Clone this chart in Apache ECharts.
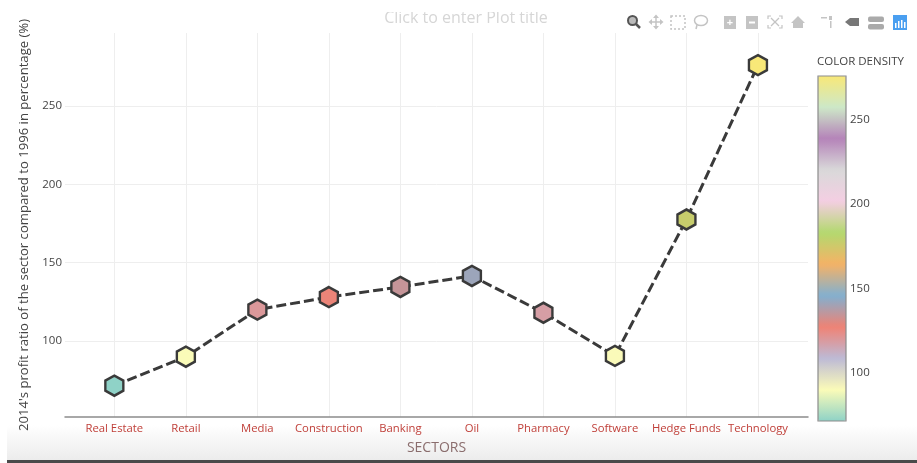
<!DOCTYPE html>
<html><head><meta charset="utf-8">
<style>html,body{margin:0;padding:0;background:#fff;overflow:hidden}#c{width:917px;height:463px}</style>
<script src="https://cdn.jsdelivr.net/npm/echarts@6/dist/echarts.min.js"></script>
</head><body><div id="c"></div>
<script>
const categories = ['Real Estate','Retail','Media','Construction','Banking','Oil','Pharmacy','Software','Hedge Funds','Technology'];
const profitRatio = [71.5,90,120,128,134.5,141.5,118,90.5,177.5,276];
const yTicks = [100,150,200,250];
const colorbarTicks = [100,150,200,250];
const colorScale = ['#8fd2c7','#fbfbb8','#bdbad6','#ef8274','#82b0d0','#f5b266','#b3d96e','#f4cee2','#d9d9d9','#b583b9','#cde8c8','#f8e878'];
const FONT = '"Open Sans", sans-serif';
const HEX = 'path://M50 0L93 25L93 75L50 100L7 75L7 25Z';
const pts = profitRatio.map((v,i)=>[i,v]);
const ic = '#c4c4c4';
const chart = echarts.init(document.getElementById('c'),null,{renderer:'canvas'});
const icon = (shape)=>Object.assign({silent:true},shape);
chart.setOption({
  animation:false,
  backgroundColor:'transparent',
  textStyle:{fontFamily:FONT},
  grid:[
    {left:65,top:33,width:743,height:384,containLabel:false},
    {left:818,top:76,width:28,height:345,show:false}
  ],
  xAxis:[
    {gridIndex:0,type:'value',min:-0.69,max:9.7,name:'SECTORS',nameLocation:'middle',nameGap:24,
     nameMoveOverlap:false,
     nameTextStyle:{color:'#8a6d6d',fontSize:14,fontFamily:FONT},
     axisLine:{onZero:false,lineStyle:{color:'#8c8c8c',width:1.5}},
     axisTick:{show:false,customValues:categories.map((c,i)=>i)},
     axisLabel:{color:'#c0403a',fontSize:11.3,fontFamily:FONT,margin:6,hideOverlap:false,
       customValues:categories.map((c,i)=>i),formatter:v=>categories[v]},
     splitLine:{show:true,lineStyle:{color:'#eeeeee',width:1}}},
    {gridIndex:1,type:'value',show:false,min:0,max:1}
  ],
  yAxis:[
    {gridIndex:0,type:'value',min:51.5,max:296.5,name:"2014's profit ratio of the sector compared to 1996 in percentage (%)",
     nameLocation:'middle',nameGap:34.5,nameMoveOverlap:false,nameTextStyle:{color:'#444',fontSize:13.1,fontFamily:FONT},
     axisLine:{show:false},
     axisTick:{show:false,customValues:yTicks},
     axisLabel:{color:'#444',fontSize:11.5,fontFamily:FONT,margin:3,customValues:yTicks},
     splitLine:{show:true,lineStyle:{color:'#eeeeee',width:1}}},
    {gridIndex:1,type:'value',position:'right',min:71.5,max:276,
     axisLine:{show:false},
     axisTick:{show:false,customValues:colorbarTicks},
     axisLabel:{color:'#444',fontSize:11.5,fontFamily:FONT,margin:4,customValues:colorbarTicks},
     splitLine:{show:false}}
  ],
  visualMap:[{
    type:'continuous',min:71.5,max:276,seriesIndex:1,dimension:1,calculable:false,hoverLink:false,
    left:818,top:76,itemWidth:28,itemHeight:345,padding:0,text:['',''],showLabel:false,
    inRange:{color:colorScale}
  }],
  series:[
    {type:'line',xAxisIndex:0,yAxisIndex:0,data:pts,showSymbol:false,symbol:'none',
     lineStyle:{color:'#3a3a3a',width:3,type:[10,4]},z:3},
    {type:'scatter',xAxisIndex:0,yAxisIndex:0,data:pts,symbol:HEX,symbolSize:[18,20],
     itemStyle:{borderColor:'#3a3a3a',borderWidth:2.5,opacity:1},z:4}
  ],
  graphic:[
    {type:'rect',z:-10,silent:true,shape:{x:7,y:425,width:910,height:35},
     style:{fill:new echarts.graphic.LinearGradient(0,0,0,1,[{offset:0,color:'#ffffff'},{offset:1,color:'#ececec'}])}},
    {type:'rect',z:-9,silent:true,shape:{x:7,y:460,width:910,height:3},style:{fill:'#4a4a4a'}},
    {type:'text',silent:true,x:466,y:18,z:1,style:{text:'Click to enter Plot title',font:'16px '+FONT,fill:'#d6d6d6',align:'center',verticalAlign:'middle'}},
    {type:'rect',silent:true,z:2,shape:{x:370,y:0,width:200,height:12},style:{fill:'#fff'}},
    {type:'text',silent:true,x:860.5,y:62,style:{text:'COLOR DENSITY',font:'11.5px '+FONT,fill:'#444',align:'center',verticalAlign:'middle'}},
    {type:'rect',silent:true,z:100,shape:{x:818,y:76,width:28,height:345},style:{fill:'none',stroke:'#8c8c8c',lineWidth:1.2}},
    // modebar
    icon({type:'circle',shape:{cx:632.5,cy:20.5,r:4.5},style:{fill:'#bbb',stroke:'#555',lineWidth:2}}),
    icon({type:'line',shape:{x1:636,y1:24,x2:640,y2:28},style:{stroke:'#555',lineWidth:2.5}}),
    icon({type:'line',shape:{x1:650,y1:22,x2:662,y2:22},style:{stroke:ic,lineWidth:1.5}}),
    icon({type:'line',shape:{x1:656,y1:16,x2:656,y2:28},style:{stroke:ic,lineWidth:1.5}}),
    icon({type:'polygon',shape:{points:[[656,14.5],[653,18],[659,18]]},style:{fill:ic}}),
    icon({type:'polygon',shape:{points:[[656,29.5],[653,26],[659,26]]},style:{fill:ic}}),
    icon({type:'polygon',shape:{points:[[648.5,22],[652,19],[652,25]]},style:{fill:ic}}),
    icon({type:'polygon',shape:{points:[[663.5,22],[660,19],[660,25]]},style:{fill:ic}}),
    icon({type:'rect',shape:{x:671,y:16,width:14,height:13},style:{fill:'none',stroke:ic,lineWidth:1.5,lineDash:[2,2]}}),
    icon({type:'ellipse',shape:{cx:701,cy:20.5,rx:6.5,ry:5},style:{fill:'none',stroke:ic,lineWidth:1.5}}),
    icon({type:'line',shape:{x1:697,y1:25,x2:696,y2:29},style:{stroke:ic,lineWidth:1.5}}),
    icon({type:'rect',shape:{x:724,y:16,width:12,height:13},style:{fill:ic}}),
    icon({type:'text',x:730,y:22.5,style:{text:'+',font:'bold 11px '+FONT,fill:'#fff',align:'center',verticalAlign:'middle'}}),
    icon({type:'rect',shape:{x:746,y:16,width:12,height:13},style:{fill:ic}}),
    icon({type:'rect',shape:{x:749,y:21.5,width:6,height:2},style:{fill:'#fff'}}),
    icon({type:'line',shape:{x1:771,y1:18,x2:779,y2:26},style:{stroke:ic,lineWidth:1.3}}),
    icon({type:'line',shape:{x1:779,y1:18,x2:771,y2:26},style:{stroke:ic,lineWidth:1.3}}),
    icon({type:'polyline',shape:{points:[[768,19],[768,16],[771,16]]},style:{stroke:ic,fill:'none',lineWidth:1.2}}),
    icon({type:'polyline',shape:{points:[[779,16],[782,16],[782,19]]},style:{stroke:ic,fill:'none',lineWidth:1.2}}),
    icon({type:'polyline',shape:{points:[[768,25],[768,28],[771,28]]},style:{stroke:ic,fill:'none',lineWidth:1.2}}),
    icon({type:'polyline',shape:{points:[[779,28],[782,28],[782,25]]},style:{stroke:ic,fill:'none',lineWidth:1.2}}),
    icon({type:'polygon',shape:{points:[[791,23],[798,16],[805,23],[803,23],[803,28],[793,28],[793,23]]},style:{fill:ic}}),
    icon({type:'rect',shape:{x:829,y:16,width:3,height:4},style:{fill:ic}}),
    icon({type:'rect',shape:{x:830,y:21,width:1.5,height:7},style:{fill:ic}}),
    icon({type:'rect',shape:{x:821,y:17,width:6,height:1.5},style:{fill:ic}}),
    icon({type:'polygon',shape:{points:[[845,22],[850,18],[859,18],[859,26],[850,26]]},style:{fill:'#777'}}),
    icon({type:'rect',shape:{x:868,y:16.5,width:16,height:5.5,r:2},style:{fill:'#aaa'}}),
    icon({type:'rect',shape:{x:868,y:24,width:16,height:5.5,r:2},style:{fill:'#aaa'}}),
    icon({type:'rect',shape:{x:893,y:15,width:14,height:15},style:{fill:'#4a9ff0'}}),
    icon({type:'rect',shape:{x:895,y:23,width:1.5,height:5},style:{fill:'#fff'}}),
    icon({type:'rect',shape:{x:898,y:21,width:1.5,height:7},style:{fill:'#fff'}}),
    icon({type:'rect',shape:{x:901,y:20,width:1.5,height:8},style:{fill:'#fff'}}),
    icon({type:'rect',shape:{x:904,y:22,width:1.5,height:6},style:{fill:'#fff'}})
  ]
});
</script></body></html>
